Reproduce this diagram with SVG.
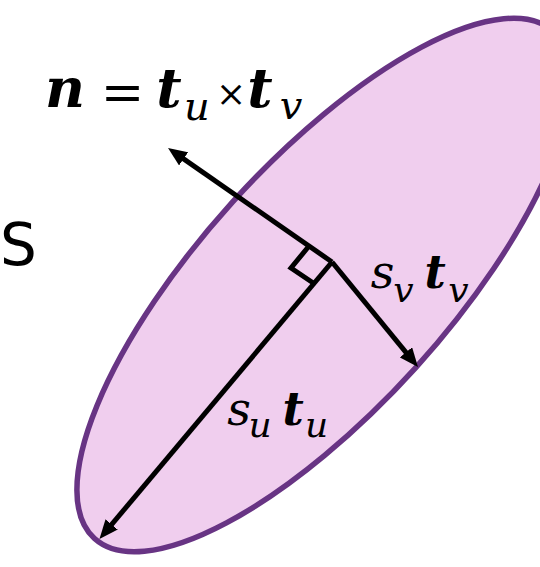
<svg xmlns="http://www.w3.org/2000/svg" width="540" height="567" viewBox="0 0 540 567">
  <style>
    .math { font-family: "DejaVu Serif", "Liberation Serif", serif; fill: #000; text-anchor: middle; }
    .bi { font-weight: bold; font-style: italic; }
    .it { font-style: italic; }
    .up { font-style: normal; font-weight: normal; }
    .vec { stroke: #000; stroke-width: 5; fill: none; }
  </style>
  <defs>
    <marker id="head" markerUnits="userSpaceOnUse" viewBox="0 0 19 16" markerWidth="19" markerHeight="16" refX="11" refY="8" orient="auto">
      <path d="M0,0 L19,8 L0,16 Z" fill="#000"/>
    </marker>
  </defs>
  <rect width="540" height="567" fill="#fff"/>

  <g id="surface">
    <ellipse cx="324" cy="285" rx="342" ry="123.5" transform="rotate(-47.85 324 285)" fill="#f0ceee" stroke="#683484" stroke-width="5.5"/>
  </g>

  <g id="label-S">
    <text x="0" y="265" font-family="DejaVu Sans, Verdana, sans-serif" font-size="58" fill="#000">S</text>
  </g>

  <g id="connectors">
    <line id="normal" class="vec" x1="332" y1="262" x2="174.6" y2="152.6" marker-end="url(#head)"/>
    <line id="major" class="vec" x1="332" y1="262" x2="104.6" y2="532.9" marker-end="url(#head)"/>
    <line id="minor" class="vec" x1="332" y1="262" x2="412.9" y2="360.8" marker-end="url(#head)"/>
    <polyline id="right-angle" class="vec" points="309,246 291,268 314,283.5"/>
  </g>

  <g id="label-n">
    <text class="math"><tspan class="bi" x="65" y="107" font-size="55">n</tspan><tspan class="up" x="122.5" y="110" font-size="52">=</tspan><tspan class="bi" x="169" y="107" font-size="55">t</tspan><tspan class="it" x="197" y="120" font-size="40">u</tspan><tspan class="up" x="231" y="106" font-size="36">×</tspan><tspan class="bi" x="260" y="107" font-size="55">t</tspan><tspan class="it" x="291" y="119" font-size="40">v</tspan></text>
  </g>

  <g id="label-sv">
    <text class="math"><tspan class="it" x="382.5" y="288" font-size="46">s</tspan><tspan class="it" x="403.5" y="302" font-size="36">v</tspan><tspan class="bi" x="435" y="288" font-size="46">t</tspan><tspan class="it" x="458.5" y="302" font-size="36">v</tspan></text>
  </g>

  <g id="label-su">
    <text class="math"><tspan class="it" x="239" y="425" font-size="46">s</tspan><tspan class="it" x="260" y="437" font-size="36">u</tspan><tspan class="bi" x="293" y="425" font-size="46">t</tspan><tspan class="it" x="316.5" y="437" font-size="36">u</tspan></text>
  </g>
</svg>
